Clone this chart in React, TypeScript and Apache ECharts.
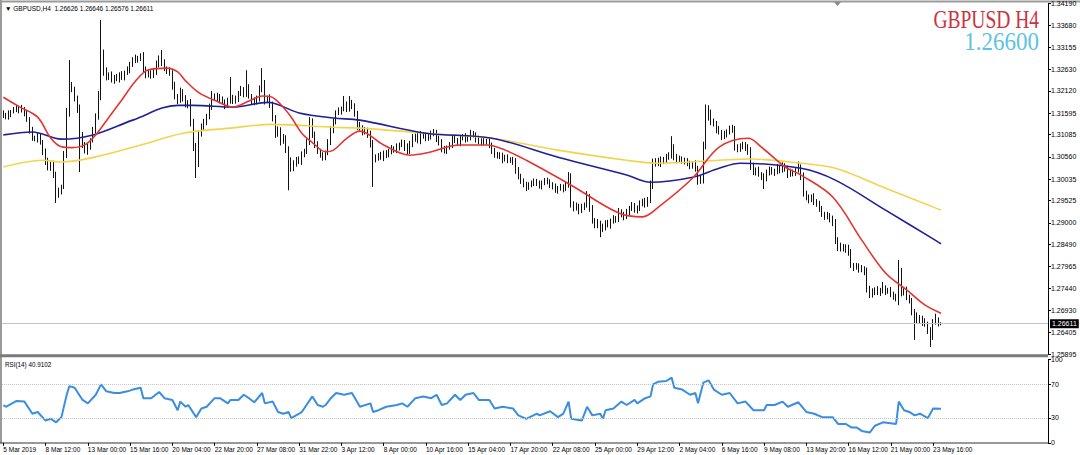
import React, { useEffect, useRef } from 'react';
import * as echarts from 'echarts';

// ---------- data ----------
const symbolName = 'GBPUSD';
const timeframe = 'H4';
const bigPriceLabel = '1.26600';
const PIP = 0.0001;
const firstOpen = 1.316;

const closes = [
  1.3155, 1.315, 1.3158, 1.3163, 1.3168, 1.3172, 1.3166, 1.317, 1.316, 1.3145,
  1.312, 1.31, 1.3098, 1.3105, 1.3092, 1.307, 1.3045, 1.303, 1.304, 1.3015,
  1.2965, 1.2975, 1.2985, 1.306, 1.316, 1.3225, 1.3215, 1.3195, 1.317, 1.311,
  1.3085, 1.307, 1.308, 1.3095, 1.312, 1.315, 1.32, 1.33, 1.326, 1.3245,
  1.325, 1.3238, 1.3245, 1.324, 1.325, 1.3244, 1.3255, 1.3262, 1.3275, 1.3285,
  1.329, 1.3288, 1.3295, 1.3265, 1.325, 1.3255, 1.3248, 1.3258, 1.3275, 1.329,
  1.328, 1.3265, 1.326, 1.3255, 1.3225, 1.32, 1.319, 1.321, 1.3195, 1.318,
  1.3185, 1.314, 1.308, 1.304, 1.311, 1.3125, 1.314, 1.315, 1.3175, 1.32,
  1.3195, 1.32, 1.319, 1.3185, 1.3178, 1.319, 1.3195, 1.3188, 1.3195, 1.3205,
  1.3215, 1.3205, 1.322, 1.32, 1.319, 1.3185, 1.3195, 1.3215, 1.323, 1.319,
  1.3195, 1.318, 1.315, 1.311, 1.312, 1.3095, 1.31, 1.3075, 1.305, 1.303,
  1.304, 1.305, 1.3045, 1.306, 1.307, 1.309, 1.314, 1.311, 1.3085, 1.307,
  1.306, 1.3055, 1.3065, 1.309, 1.312, 1.314, 1.316, 1.3165, 1.317, 1.318,
  1.317, 1.3185, 1.3175, 1.316, 1.313, 1.3125, 1.3115, 1.312, 1.311, 1.309,
  1.305, 1.3055, 1.306, 1.3055, 1.3065, 1.306, 1.307, 1.3075, 1.3072, 1.308,
  1.3085, 1.309, 1.308, 1.307, 1.3085, 1.31, 1.3105, 1.3095, 1.311, 1.3105,
  1.31, 1.3105, 1.311, 1.3115, 1.31, 1.309, 1.3075, 1.307, 1.3078, 1.3085,
  1.31, 1.3095, 1.309, 1.31, 1.3105, 1.3098, 1.3102, 1.311, 1.3108, 1.3098,
  1.3092, 1.3095, 1.309, 1.3093, 1.3085, 1.307, 1.306, 1.3062, 1.3058, 1.305,
  1.3055, 1.3048, 1.305, 1.3045, 1.3025, 1.301, 1.3, 1.299, 1.2985, 1.299,
  1.2995, 1.2998, 1.2992, 1.2988, 1.2995, 1.3, 1.2998, 1.299, 1.2985, 1.2978,
  1.2982, 1.2985, 1.298, 1.299, 1.301, 1.2945, 1.2935, 1.294, 1.293, 1.2938,
  1.2942, 1.296, 1.2935, 1.2905, 1.2895, 1.29, 1.2885, 1.289, 1.29, 1.2895,
  1.2905, 1.291, 1.2908, 1.2925, 1.292, 1.2915, 1.2925, 1.2935, 1.294, 1.293,
  1.2935, 1.2945, 1.295, 1.2945, 1.2955, 1.299, 1.304, 1.3045, 1.304, 1.305,
  1.3048, 1.3055, 1.306, 1.308, 1.3055, 1.305, 1.3052, 1.3048, 1.3045, 1.304,
  1.3035, 1.304, 1.303, 1.3005, 1.3, 1.308, 1.315, 1.316, 1.314, 1.3135,
  1.312, 1.3115, 1.3105, 1.311, 1.3115, 1.3125, 1.312, 1.308, 1.3075, 1.308,
  1.3085, 1.3078, 1.307, 1.3035, 1.302, 1.3025, 1.3015, 1.301, 1.3005, 1.302,
  1.3025, 1.302, 1.3022, 1.303, 1.3025, 1.3035, 1.3028, 1.3015, 1.302, 1.3018,
  1.3025, 1.303, 1.301, 1.297, 1.296, 1.2955, 1.2962, 1.295, 1.2945, 1.2935,
  1.292, 1.2915, 1.2918, 1.291, 1.29, 1.286, 1.284, 1.2845, 1.2838, 1.2842,
  1.283, 1.28, 1.2795, 1.2798, 1.279, 1.2792, 1.2785, 1.2745, 1.273, 1.2738,
  1.2742, 1.2735, 1.274, 1.2745, 1.2738, 1.274, 1.2732, 1.2725, 1.272, 1.2785,
  1.2735, 1.274, 1.2725, 1.2715, 1.269, 1.268, 1.267, 1.2675, 1.2665, 1.266,
  1.2645, 1.263, 1.2665, 1.267, 1.26626, 1.26611,
];

const upperWickPips = [
  6, 5, 8, 4, 6, 7, 5, 9, 4, 6, 5, 7, 6, 8, 5, 4, 6, 9, 5, 7,
  6, 8, 5, 10, 12, 60, 8, 7, 6, 10, 5, 6, 8, 5, 7, 9, 12, 80, 10, 8,
  6, 8, 5, 7, 6, 9, 5, 8, 6, 7, 8, 5, 6, 9, 5, 7, 6, 8, 9, 6,
  19, 7, 5, 8, 6, 9, 5, 10, 6, 7, 5, 8, 6, 9, 7, 10, 6, 8, 7, 12,
  6, 8, 5, 9, 7, 6, 50, 8, 6, 7, 9, 6, 41, 8, 5, 7, 6, 10, 36, 8,
  6, 9, 7, 5, 8, 6, 10, 7, 6, 5, 8, 6, 7, 9, 5, 8, 10, 7, 6, 8,
  5, 7, 6, 8, 9, 7, 6, 8, 5, 20, 7, 15, 6, 8, 5, 9, 6, 7, 5, 8,
  6, 7, 5, 8, 6, 7, 5, 9, 6, 8, 5, 7, 6, 8, 9, 10, 6, 8, 7, 5,
  9, 6, 8, 7, 5, 6, 8, 7, 5, 6, 9, 7, 6, 8, 5, 7, 6, 10, 7, 6,
  8, 5, 7, 6, 8, 5, 7, 6, 5, 8, 6, 7, 5, 6, 8, 7, 6, 5, 7, 6,
  5, 7, 6, 8, 5, 6, 7, 5, 6, 8, 5, 7, 6, 8, 10, 7, 6, 8, 5, 7,
  6, 15, 8, 7, 6, 9, 5, 8, 6, 7, 5, 8, 6, 10, 7, 6, 8, 5, 9, 7,
  6, 8, 7, 9, 6, 10, 12, 8, 9, 7, 6, 8, 7, 25, 6, 8, 7, 5, 6, 8,
  7, 6, 8, 5, 7, 12, 30, 18, 8, 7, 6, 9, 5, 8, 6, 5, 7, 9, 6, 8,
  7, 6, 8, 9, 7, 6, 8, 5, 7, 6, 8, 7, 6, 9, 5, 8, 6, 7, 8, 6,
  7, 15, 8, 9, 6, 7, 5, 8, 6, 7, 5, 6, 8, 5, 7, 9, 6, 8, 5, 7,
  6, 8, 5, 7, 6, 8, 5, 9, 6, 7, 5, 8, 6, 15, 7, 6, 8, 5, 7, 27,
  8, 6, 9, 5, 7, 6, 8, 7, 5, 9, 6, 8, 7, 15, 6, 2,
];

const lowerWickPips = [
  7, 5, 6, 8, 4, 6, 7, 5, 8, 6, 9, 6, 5, 8, 7, 10, 8, 6, 7, 9,
  18, 6, 8, 5, 7, 9, 6, 8, 10, 90, 8, 6, 9, 7, 5, 8, 6, 10, 12, 8,
  7, 6, 9, 5, 8, 6, 7, 5, 8, 6, 7, 9, 5, 10, 8, 6, 7, 5, 8, 7,
  9, 6, 8, 7, 10, 8, 9, 6, 8, 7, 9, 12, 10, 34, 8, 6, 7, 9, 5, 8,
  6, 8, 7, 5, 9, 6, 8, 7, 6, 9, 5, 8, 7, 6, 9, 7, 5, 8, 6, 10,
  7, 8, 10, 9, 6, 12, 8, 10, 73, 9, 8, 7, 6, 8, 5, 7, 6, 9, 8, 7,
  6, 8, 7, 5, 6, 8, 7, 5, 9, 6, 8, 7, 6, 9, 10, 7, 8, 6, 9, 12,
  65, 7, 8, 6, 9, 7, 5, 8, 6, 7, 9, 6, 10, 8, 7, 6, 8, 7, 9, 6,
  7, 6, 8, 5, 9, 7, 8, 6, 7, 5, 8, 6, 7, 9, 5, 8, 6, 7, 6, 8,
  6, 9, 7, 5, 8, 7, 6, 8, 7, 9, 5, 7, 6, 8, 9, 7, 8, 6, 10, 7,
  6, 8, 5, 7, 9, 6, 7, 8, 6, 7, 9, 6, 8, 5, 7, 9, 8, 6, 10, 7,
  8, 6, 9, 7, 8, 8, 19, 7, 8, 6, 9, 7, 8, 6, 7, 9, 6, 8, 7, 6,
  8, 7, 6, 9, 7, 8, 10, 7, 6, 8, 9, 7, 6, 8, 7, 9, 6, 8, 7, 6,
  8, 7, 9, 15, 8, 7, 6, 8, 9, 7, 8, 6, 9, 7, 8, 6, 7, 9, 8, 7,
  6, 8, 9, 10, 7, 8, 6, 9, 25, 7, 8, 6, 9, 7, 8, 6, 7, 9, 6, 8,
  7, 6, 9, 8, 7, 9, 6, 8, 7, 9, 6, 8, 7, 9, 8, 10, 7, 8, 6, 9,
  8, 7, 9, 6, 8, 7, 9, 10, 8, 7, 9, 6, 8, 7, 9, 6, 8, 7, 6, 15,
  9, 7, 8, 6, 9, 57, 8, 7, 9, 6, 8, 24, 7, 6, 8, 3.5,
];

// moving averages: [bar index, price]
const maRed = [
  [0, 1.3197], [6, 1.3175], [13, 1.315], [18, 1.31], [22, 1.308], [26, 1.3078], [31, 1.3085],
  [35, 1.3108], [40, 1.315], [45, 1.3192], [50, 1.3235], [55, 1.3262], [62, 1.3266], [66, 1.3257],
  [69, 1.3236], [74, 1.3208], [80, 1.319], [87, 1.3174], [93, 1.3188], [98, 1.32], [101, 1.3199],
  [105, 1.318], [109, 1.315], [113, 1.3112], [117, 1.309], [122, 1.3068], [125, 1.3072], [130, 1.31],
  [135, 1.3117], [144, 1.3084], [154, 1.306], [160, 1.3065], [173, 1.3084], [183, 1.3084], [190, 1.3072],
  [198, 1.3048], [215, 1.2989], [233, 1.2923], [242, 1.2914], [248, 1.2937], [261, 1.3006], [271, 1.3079],
  [282, 1.31], [287, 1.3079], [296, 1.3032], [302, 1.3013], [314, 1.2961], [325, 1.2859], [334, 1.2781],
  [342, 1.2741], [349, 1.2705], [355, 1.2686],
];
const maBlue = [
  [0, 1.3108], [11, 1.3115], [22, 1.3098], [34, 1.3108], [49, 1.3143], [66, 1.3178], [72, 1.3178],
  [87, 1.3174], [100, 1.3185], [112, 1.316], [125, 1.3148], [135, 1.3143], [160, 1.3112], [185, 1.31],
  [210, 1.3055], [236, 1.3013], [245, 1.2996], [261, 1.3008], [271, 1.3029], [279, 1.3041], [302, 1.3029],
  [315, 1.3001], [334, 1.293], [352, 1.2862], [355, 1.285],
];
const maYellow = [
  [0, 1.3032], [15, 1.3048], [22, 1.3044], [35, 1.3056], [52, 1.3084], [68, 1.3112], [86, 1.3124],
  [102, 1.3133], [125, 1.3126], [135, 1.3124], [160, 1.3112], [185, 1.31], [210, 1.3072], [236, 1.3048],
  [248, 1.3041], [271, 1.3048], [283, 1.3051], [302, 1.3041], [315, 1.3029], [334, 1.2982], [355, 1.293],
];

// RSI(14): [bar index, value]
const rsiPoints = [
  [0, 45.2], [1, 43.2], [5, 50.2], [8, 49.4], [11, 34.9], [13, 37], [16, 26.7], [18, 28.8], [20, 24.6],
  [22, 30.8], [24, 57.6], [25, 67.9], [27, 65.9], [30, 51.4], [32, 47.3], [35, 57.6], [37, 70], [39, 61.7],
  [42, 59.7], [44, 59.7], [47, 61.7], [49, 63.8], [52, 65.9], [53, 53.5], [56, 53.5], [59, 60.9], [61, 53.5],
  [64, 51.4], [66, 39.1], [67, 49.4], [69, 43.2], [70, 45.3], [73, 30.8], [75, 41.1], [77, 43.2], [80, 53.5],
  [82, 53.5], [85, 47.3], [86, 51.4], [89, 51.4], [91, 57.6], [93, 53.5], [95, 48.6], [98, 59.7], [99, 47.3],
  [102, 49.4], [104, 37], [106, 34.9], [108, 37], [109, 29.6], [112, 34.9], [113, 37], [117, 55.6], [119, 45.3],
  [121, 43.2], [122, 45.3], [124, 53.5], [126, 59.7], [129, 57.6], [132, 59.7], [135, 43.2], [139, 47.3],
  [140, 37], [142, 39.1], [145, 43.2], [149, 45.3], [151, 47.3], [153, 43.2], [156, 53.5], [159, 55.6],
  [162, 53.5], [164, 57.6], [166, 45.3], [168, 47.3], [171, 57.6], [173, 51.4], [175, 57.6], [178, 59.7],
  [180, 51.4], [184, 51.4], [186, 41.1], [189, 43.2], [193, 41.1], [195, 32.9], [198, 28.8], [202, 34.9],
  [203, 32.9], [207, 37.8], [210, 30.8], [212, 34.9], [214, 49.4], [215, 28.8], [219, 26.7], [221, 43.2],
  [223, 32.9], [226, 34.9], [227, 28.8], [228, 39.1], [231, 41.1], [234, 49.4], [236, 45.3], [239, 51.4],
  [240, 47.3], [243, 53.5], [245, 55.6], [246, 70], [248, 73.3], [251, 74.1], [253, 78.2], [254, 65.9],
  [257, 63.8], [260, 57.6], [262, 59.7], [263, 47.3], [265, 72.1], [267, 74.9], [269, 63.8], [272, 57.6],
  [275, 59.7], [278, 47.3], [281, 49.4], [284, 39.1], [288, 39.1], [289, 45.3], [292, 45.3], [295, 49.4],
  [297, 43.2], [301, 48.6], [304, 37], [307, 34.9], [310, 30.8], [314, 30.8], [316, 22.6], [319, 22.6],
  [321, 18.5], [323, 18.5], [325, 14.3], [328, 12.3], [330, 20.5], [333, 24.6], [338, 22.6], [339, 49.4],
  [341, 39.1], [343, 37], [345, 32.9], [347, 34.9], [350, 29.6], [352, 41.1], [355, 40.9102],
];

const priceTicks = [
  1.3419, 1.3368, 1.33155, 1.3263, 1.3212, 1.31595, 1.31085, 1.3056, 1.30035,
  1.29525, 1.29, 1.2849, 1.27965, 1.2744, 1.2693, 1.26405, 1.25895,
];
const priceMin = 1.25895;
const priceMax = 1.3419;
const rsiTicks = [0, 30, 70, 100];
const rsiLevels = [30, 70];

const dateLabels = [
  '5 Mar 2019', '8 Mar 12:00', '13 Mar 00:00', '15 Mar 16:00', '20 Mar 04:00', '22 Mar 20:00',
  '27 Mar 08:00', '31 Mar 22:00', '3 Apr 12:00', '8 Apr 00:00', '10 Apr 16:00', '15 Apr 04:00',
  '17 Apr 20:00', '22 Apr 08:00', '25 Apr 00:00', '29 Apr 12:00', '2 May 04:00', '6 May 16:00',
  '9 May 08:00', '13 May 20:00', '16 May 12:00', '21 May 00:00', '23 May 16:00',
];
const dateLabelBars = [
  0, 16, 32, 48, 64, 80, 96, 112, 128, 144, 160, 176, 192, 208, 224, 240, 256, 272, 288, 304, 320, 336, 352,
];

// ---------- component ----------
const SLOTS = 396; // bars + right-hand chart shift
const SMALL_FONT = 'Liberation Sans, Arial, sans-serif';

export default function App() {
  const ref = useRef<HTMLDivElement>(null);

  useEffect(() => {
    document.body.style.margin = '0';
    const chart = echarts.init(ref.current as HTMLDivElement, null, { renderer: 'svg' });

    const cats = Array.from({ length: SLOTS }, (_, i) => String(i));
    const ohlc = closes.map((c, i) => {
      const o = i === 0 ? firstOpen : closes[i - 1];
      const hi = Math.max(o, c) + upperWickPips[i] * PIP;
      const lo = Math.min(o, c) - lowerWickPips[i] * PIP;
      return [o, c, lo, hi];
    });
    const last = ohlc[ohlc.length - 1];
    const header = `\u25BC ${symbolName},${timeframe}  ${last[0].toFixed(5)} ${last[3].toFixed(5)} ${last[2].toFixed(5)} ${last[1].toFixed(5)}`;
    const rsiHeader = `RSI(14) ${rsiPoints[rsiPoints.length - 1][1].toFixed(4)}`;
    const labelSet = new Set(dateLabelBars);

    const option: any = {
      animation: false,
      backgroundColor: '#ffffff',
      grid: [
        { left: 2, top: 3.3, width: 1046, height: 350.7 },
        { left: 2, top: 359.35, width: 1046, height: 83.5 },
      ],
      xAxis: [
        {
          type: 'category', gridIndex: 0, data: cats, boundaryGap: true,
          axisLine: { show: false }, axisTick: { show: false }, axisLabel: { show: false }, splitLine: { show: false },
        },
        {
          type: 'category', gridIndex: 1, data: cats, boundaryGap: true,
          axisLine: { show: false },
          axisTick: {
            show: true, alignWithLabel: true, length: 3,
            interval: (i: number) => labelSet.has(i),
            lineStyle: { color: '#000', width: 1 },
          },
          axisLabel: {
            interval: (i: number) => labelSet.has(i),
            formatter: (v: string) => dateLabels[dateLabelBars.indexOf(Number(v))] ?? '',
            align: 'left', fontSize: 6.5, color: '#000', margin: 3, fontFamily: SMALL_FONT,
          },
          splitLine: { show: false },
        },
      ],
      yAxis: [
        {
          type: 'value', gridIndex: 0, position: 'right', min: priceMin, max: priceMax,
          axisLine: { show: true, lineStyle: { color: '#000', width: 1 } },
          axisTick: { show: true, customValues: priceTicks, length: 3, lineStyle: { color: '#000' } },
          axisLabel: {
            customValues: priceTicks, formatter: (v: number) => v.toFixed(5),
            fontSize: 7, color: '#000', margin: 3, fontFamily: SMALL_FONT,
          },
          splitLine: { show: false },
        },
        {
          type: 'value', gridIndex: 1, position: 'right', min: 0, max: 100,
          axisLine: { show: true, lineStyle: { color: '#000', width: 1 } },
          axisTick: { show: true, customValues: rsiTicks, length: 3, lineStyle: { color: '#000' } },
          axisLabel: {
            customValues: rsiTicks, formatter: (v: number) => String(v),
            fontSize: 7, color: '#000', margin: 3, fontFamily: SMALL_FONT,
          },
          splitLine: { show: false },
        },
      ],
      series: [
        {
          type: 'candlestick', xAxisIndex: 0, yAxisIndex: 0, data: ohlc, barWidth: 1.2,
          itemStyle: { color: '#111', color0: '#111', borderColor: '#111', borderColor0: '#111', borderWidth: 1 },
          markLine: {
            silent: true, symbol: 'none', animation: false, precision: 5,
            data: [{ yAxis: closes[closes.length - 1] }],
            lineStyle: { color: '#c4c4c4', width: 1, type: 'solid' },
            label: {
              show: true, position: 'end', distance: 2,
              formatter: (p: any) => Number(p.value).toFixed(5),
              backgroundColor: '#000', color: '#fff', fontSize: 7, padding: [1, 2, 1, 2], fontFamily: SMALL_FONT,
            },
          },
          z: 2,
        },
        {
          type: 'line', xAxisIndex: 0, yAxisIndex: 0, data: maYellow, smooth: 0.35, symbol: 'none',
          lineStyle: { color: '#f2d44c', width: 1.6 }, z: 3,
        },
        {
          type: 'line', xAxisIndex: 0, yAxisIndex: 0, data: maBlue, smooth: 0.35, symbol: 'none',
          lineStyle: { color: '#1f1f9a', width: 1.6 }, z: 4,
        },
        {
          type: 'line', xAxisIndex: 0, yAxisIndex: 0, data: maRed, smooth: 0.35, symbol: 'none',
          lineStyle: { color: '#e3342f', width: 1.6 }, z: 5,
        },
        {
          type: 'line', xAxisIndex: 1, yAxisIndex: 1, data: rsiPoints, symbol: 'none',
          lineStyle: { color: '#3a8ee0', width: 2 },
          markLine: {
            silent: true, symbol: 'none', animation: false, precision: 2,
            data: rsiLevels.map((v) => ({ yAxis: v })),
            lineStyle: { color: '#c4c4c4', width: 1, type: 'dotted' },
            label: { show: false },
          },
        },
      ],
      graphic: [
        { type: 'line', shape: { x1: 0, y1: 1.5, x2: 1080, y2: 1.5 }, style: { stroke: '#9a9a9a', lineWidth: 2 }, silent: true },
        { type: 'line', shape: { x1: 1, y1: 0, x2: 1, y2: 443 }, style: { stroke: '#9a9a9a', lineWidth: 2 }, silent: true },
        { type: 'rect', shape: { x: 0, y: 354.3, width: 1048, height: 3 }, style: { fill: '#7a7a7a' }, silent: true },
        { type: 'line', shape: { x1: 0, y1: 443, x2: 1048, y2: 443 }, style: { stroke: '#333', lineWidth: 1 }, silent: true },
        { type: 'polygon', shape: { points: [[834, 2], [841, 2], [837.5, 6]] }, style: { fill: '#8a8a8a' }, silent: true },
        {
          type: 'text', x: 5, y: 8.5, silent: true,
          style: { text: header, fontSize: 6.5, fontFamily: SMALL_FONT, fill: '#000', verticalAlign: 'middle', textVerticalAlign: 'middle' },
        },
        {
          type: 'text', x: 5, y: 364, silent: true,
          style: { text: rsiHeader, fontSize: 6.3, fontFamily: SMALL_FONT, fill: '#000', verticalAlign: 'middle', textVerticalAlign: 'middle' },
        },
        {
          type: 'text', x: 1039, y: 19.5, scaleX: 0.78, silent: true,
          style: {
            text: `${symbolName} ${timeframe}`, fontSize: 25, fontFamily: 'Liberation Serif, serif', fill: '#cc3340',
            align: 'right', textAlign: 'right', verticalAlign: 'middle', textVerticalAlign: 'middle',
          },
        },
        {
          type: 'text', x: 1039, y: 41.5, scaleX: 0.92, silent: true,
          style: {
            text: bigPriceLabel, fontSize: 25, fontFamily: 'Liberation Serif, serif', fill: '#5cc3de',
            align: 'right', textAlign: 'right', verticalAlign: 'middle', textVerticalAlign: 'middle',
          },
        },
      ],
    };

    chart.setOption(option);
    return () => chart.dispose();
  }, []);

  return <div ref={ref} style={{ width: 1080, height: 455 }} />;
}
